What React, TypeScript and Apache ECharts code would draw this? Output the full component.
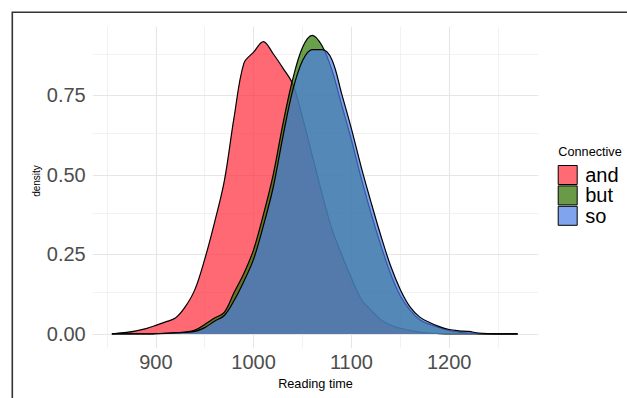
import React, { useEffect, useRef } from "react";
import * as echarts from "echarts";

// Reading time grid (x) shared by all density curves
const readingTimes = [855, 860, 870, 880, 890, 900, 910, 920, 930, 940, 950, 960, 970, 980, 990, 1000, 1010, 1020, 1030, 1040, 1050, 1060, 1070, 1080, 1090, 1100, 1110, 1120, 1130, 1140, 1150, 1160, 1170, 1180, 1190, 1200, 1210, 1220, 1230, 1240, 1250, 1260, 1270];

const andDensity = [0, 0.002, 0.005, 0.01, 0.017, 0.027, 0.038, 0.05, 0.085, 0.14, 0.235, 0.35, 0.48, 0.68, 0.85, 0.885, 0.918, 0.88, 0.835, 0.785, 0.68, 0.56, 0.44, 0.33, 0.25, 0.175, 0.11, 0.075, 0.045, 0.028, 0.018, 0.011, 0.006, 0.003, 0.001, 0, 0, 0, 0, 0, 0, 0, 0];

const butDensity = [0, 0, 0, 0, 0, 0.001, 0.002, 0.004, 0.006, 0.012, 0.03, 0.05, 0.068, 0.13, 0.19, 0.265, 0.375, 0.5, 0.66, 0.8, 0.9, 0.938, 0.905, 0.83, 0.72, 0.61, 0.49, 0.38, 0.28, 0.19, 0.12, 0.075, 0.045, 0.03, 0.02, 0.011, 0.006, 0.003, 0.001, 0, 0, 0, 0];

const soDensity = [0, 0, 0, 0, 0, 0.001, 0.002, 0.003, 0.005, 0.008, 0.02, 0.04, 0.058, 0.105, 0.165, 0.235, 0.34, 0.46, 0.62, 0.765, 0.858, 0.893, 0.893, 0.862, 0.755, 0.645, 0.525, 0.415, 0.31, 0.215, 0.14, 0.085, 0.053, 0.036, 0.023, 0.014, 0.01, 0.008, 0.003, 0.001, 0.0005, 0, 0];

const connectives = ["and", "but", "so"];
const xTickLabels = [900, 1000, 1100, 1200];
const xMinorGrid = [850, 950, 1050, 1150, 1250];
const yTickLabels = [0, 0.25, 0.5, 0.75];
const yMinorGrid = [0.125, 0.375, 0.625, 0.875];

const FONT = "'Liberation Sans', Arial, Helvetica, sans-serif";
const fillColors = ["#FF2937", "#2A7700", "#4A7DE6"];
const legendColors = ["#FF6A74", "#6A9A48", "#80A4EE"];

export default function App() {
  const ref = useRef<HTMLDivElement>(null);

  useEffect(() => {
    if (!ref.current) return;
    const chart = echarts.init(ref.current, null, { renderer: "svg" });
    const seriesData = [andDensity, butDensity, soDensity];

    const majorStyle = { color: "#E6E6E6", width: 1.1, type: "solid" };
    const minorStyle = { color: "#EFEFEF", width: 0.8, type: "solid" };
    const gridLines = [
      ...xTickLabels.map((v) => ({ xAxis: v, lineStyle: majorStyle })),
      ...xMinorGrid.map((v) => ({ xAxis: v, lineStyle: minorStyle })),
      ...yTickLabels.map((v) => ({ yAxis: v, lineStyle: majorStyle })),
      ...yMinorGrid.map((v) => ({ yAxis: v, lineStyle: minorStyle })),
    ];

    chart.setOption({
      animation: false,
      backgroundColor: "#fff",
      grid: { left: 92.7, top: 26.7, width: 445.6, height: 321.6, containLabel: false },
      xAxis: {
        type: "value",
        min: 835.4,
        max: 1291.2,
        axisLine: { show: false },
        axisTick: { show: false },
        splitLine: { show: false },
        axisLabel: {
          customValues: xTickLabels,
          formatter: (v: number) => String(v),
          fontSize: 20,
          fontFamily: FONT,
          color: "#4D4D4D",
          margin: 4,
        },
        name: "Reading time",
        nameLocation: "middle",
        nameGap: 29,
        nameTextStyle: { fontSize: 12.7, fontFamily: FONT, color: "#000" },
      },
      yAxis: {
        type: "value",
        min: -0.045,
        max: 0.965,
        axisLine: { show: false },
        axisTick: { show: false },
        splitLine: { show: false },
        axisLabel: {
          customValues: yTickLabels,
          formatter: (v: number) => v.toFixed(2),
          fontSize: 20,
          fontFamily: FONT,
          color: "#4D4D4D",
          margin: 7,
        },
      },
      legend: {
        orient: "vertical",
        left: 557.7,
        top: 165,
        padding: 0,
        itemWidth: 19,
        itemHeight: 19,
        itemGap: 0.4,
        icon: "rect",
        selectedMode: false,
        textStyle: { fontSize: 20, fontFamily: FONT, color: "#000", lineHeight: 19, padding: [0, 0, 0, 3] },
        data: connectives.map((name, i) => ({
          name,
          itemStyle: { color: legendColors[i], borderColor: "#000", borderWidth: 1, opacity: 1 },
        })),
      },
      graphic: [
        {
          type: "rect",
          shape: { x: 12.3, y: 12.3, width: 700, height: 500 },
          style: { fill: "none", stroke: "#333", lineWidth: 1.6 },
          silent: true,
        },
        {
          type: "text",
          x: 36.7,
          y: 181,
          rotation: Math.PI / 2,
          style: { text: "density", font: `10px ${FONT}`, fill: "#000", align: "center", verticalAlign: "middle" },
        },
        {
          type: "text",
          x: 558.3,
          y: 152.3,
          style: { text: "Connective", font: `12.7px ${FONT}`, fill: "#000", align: "left", verticalAlign: "middle" },
        },
      ],
      series: [
        {
          type: "line",
          name: "__grid",
          data: [],
          silent: true,
          markLine: {
            silent: true,
            z: 1,
            symbol: ["none", "none"],
            label: { show: false },
            animation: false,
            data: gridLines,
          },
        },
        ...connectives.map((name, i) => ({
          type: "line",
          name,
          data: readingTimes.map((x, j) => [x, seriesData[i][j]]),
          smooth: 0.35,
          showSymbol: false,
          symbol: "none",
          silent: true,
          z: 2 + i,
          lineStyle: { color: "#000", width: 1.2 },
          itemStyle: { color: fillColors[i] },
          areaStyle: { color: fillColors[i], opacity: 0.7 },
        })),
      ],
    });

    return () => chart.dispose();
  }, []);

  return (
    <div
      ref={ref}
      style={{ position: "absolute", left: 0, top: 0, width: 627, height: 398 }}
    />
  );
}
